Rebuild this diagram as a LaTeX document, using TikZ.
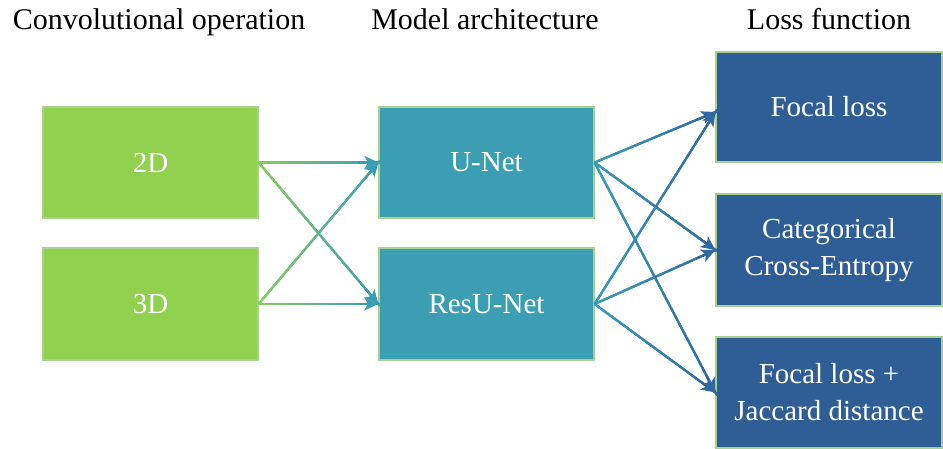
\documentclass[tikz,border=0pt]{standalone}
\usepackage{fontspec}
\setmainfont{Liberation Serif}
\usetikzlibrary{arrows.meta,calc}

\definecolor{convgreen}{HTML}{92D050}
\definecolor{archteal}{HTML}{3C9EB2}
\definecolor{lossblue}{HTML}{2F5D96}
\definecolor{edgegreen}{HTML}{A9D18E}
\definecolor{linkgreen}{HTML}{8ACB5E}
\definecolor{linkteal}{HTML}{3A9DB6}
\definecolor{linkblue}{HTML}{2F68A3}

\tikzset{
  box/.style={draw=edgegreen, line width=1.2pt, text=white, align=center,
              font=\fontsize{29}{37}\selectfont, inner sep=0pt},
  convbox/.style={box, fill=convgreen, minimum width=215pt},
  archbox/.style={box, fill=archteal, minimum width=215pt},
  lossbox/.style={box, fill=lossblue, minimum width=226pt},
  heading/.style={anchor=base, font=\fontsize{30}{36}\selectfont, text=black, inner sep=0pt},
  linkline/.style={line width=2.2pt, line cap=butt},
}

% connector whose colour fades from #3 to #4 along its length
\newcommand\gradlink[4]{%
  % base stroke in the middle colour so the fading pieces leave no seams
  \draw[linkline, draw=#3!50!#4] (#1) -- (#2);
  \foreach \k in {0,...,29}{%
    \pgfmathsetmacro\mixpct{100-100*(\k+0.5)/30}%
    \draw[linkline, draw=#3!\mixpct!#4]
      ($(#1)!\k/30!(#2)$) -- ($(#1)!{(\k+1.4)/30}!(#2)$);
  }%
  \draw[linkline, draw=#4, fill=#4,
        -{Stealth[length=14pt,width=13pt,inset=3.5pt]}]
    ($(#2)!20pt!(#1)$) -- (#2);
}

\begin{document}
\begin{tikzpicture}[x=1pt, y=-1pt]
  \useasboundingbox (0,0) rectangle (943,448);

  % column headings
  \node[heading] (hconv) at (159,29) {Convolutional operation};
  \node[heading] (harch) at (485,29) {Model architecture};
  \node[heading] (hloss) at (829,29) {Loss function};

  % convolution type
  \node[convbox, minimum height=111pt] (c2d) at (150.5,162.5) {2D};
  \node[convbox, minimum height=112pt] (c3d) at (150.5,304) {3D};

  % architectures
  \node[archbox, minimum height=111pt] (unet) at (486.5,162.5) {U-Net};
  \node[archbox, minimum height=112pt] (resunet) at (486.5,304) {ResU-Net};

  % loss functions
  \node[lossbox, minimum height=110pt] (focal) at (829,107) {Focal loss};
  \node[lossbox, minimum height=112pt] (cce) at (829,250) {Categorical\\Cross-Entropy};
  \node[lossbox, minimum height=111pt] (fjd) at (829,392.5) {Focal loss +\\Jaccard distance};

  \coordinate (focalin) at ($(focal.west)+(0,5)$);

  % convolution -> architecture
  \gradlink{c2d.east}{unet.west}{linkgreen}{linkteal}
  \gradlink{c2d.east}{resunet.west}{linkgreen}{linkteal}
  \gradlink{c3d.east}{unet.west}{linkgreen}{linkteal}
  \gradlink{c3d.east}{resunet.west}{linkgreen}{linkteal}

  % architecture -> loss
  \gradlink{unet.east}{focalin}{linkteal}{linkblue}
  \gradlink{unet.east}{cce.west}{linkteal}{linkblue}
  \gradlink{unet.east}{fjd.west}{linkteal}{linkblue}
  \gradlink{resunet.east}{focalin}{linkteal}{linkblue}
  \gradlink{resunet.east}{cce.west}{linkteal}{linkblue}
  \gradlink{resunet.east}{fjd.west}{linkteal}{linkblue}
\end{tikzpicture}
\end{document}
